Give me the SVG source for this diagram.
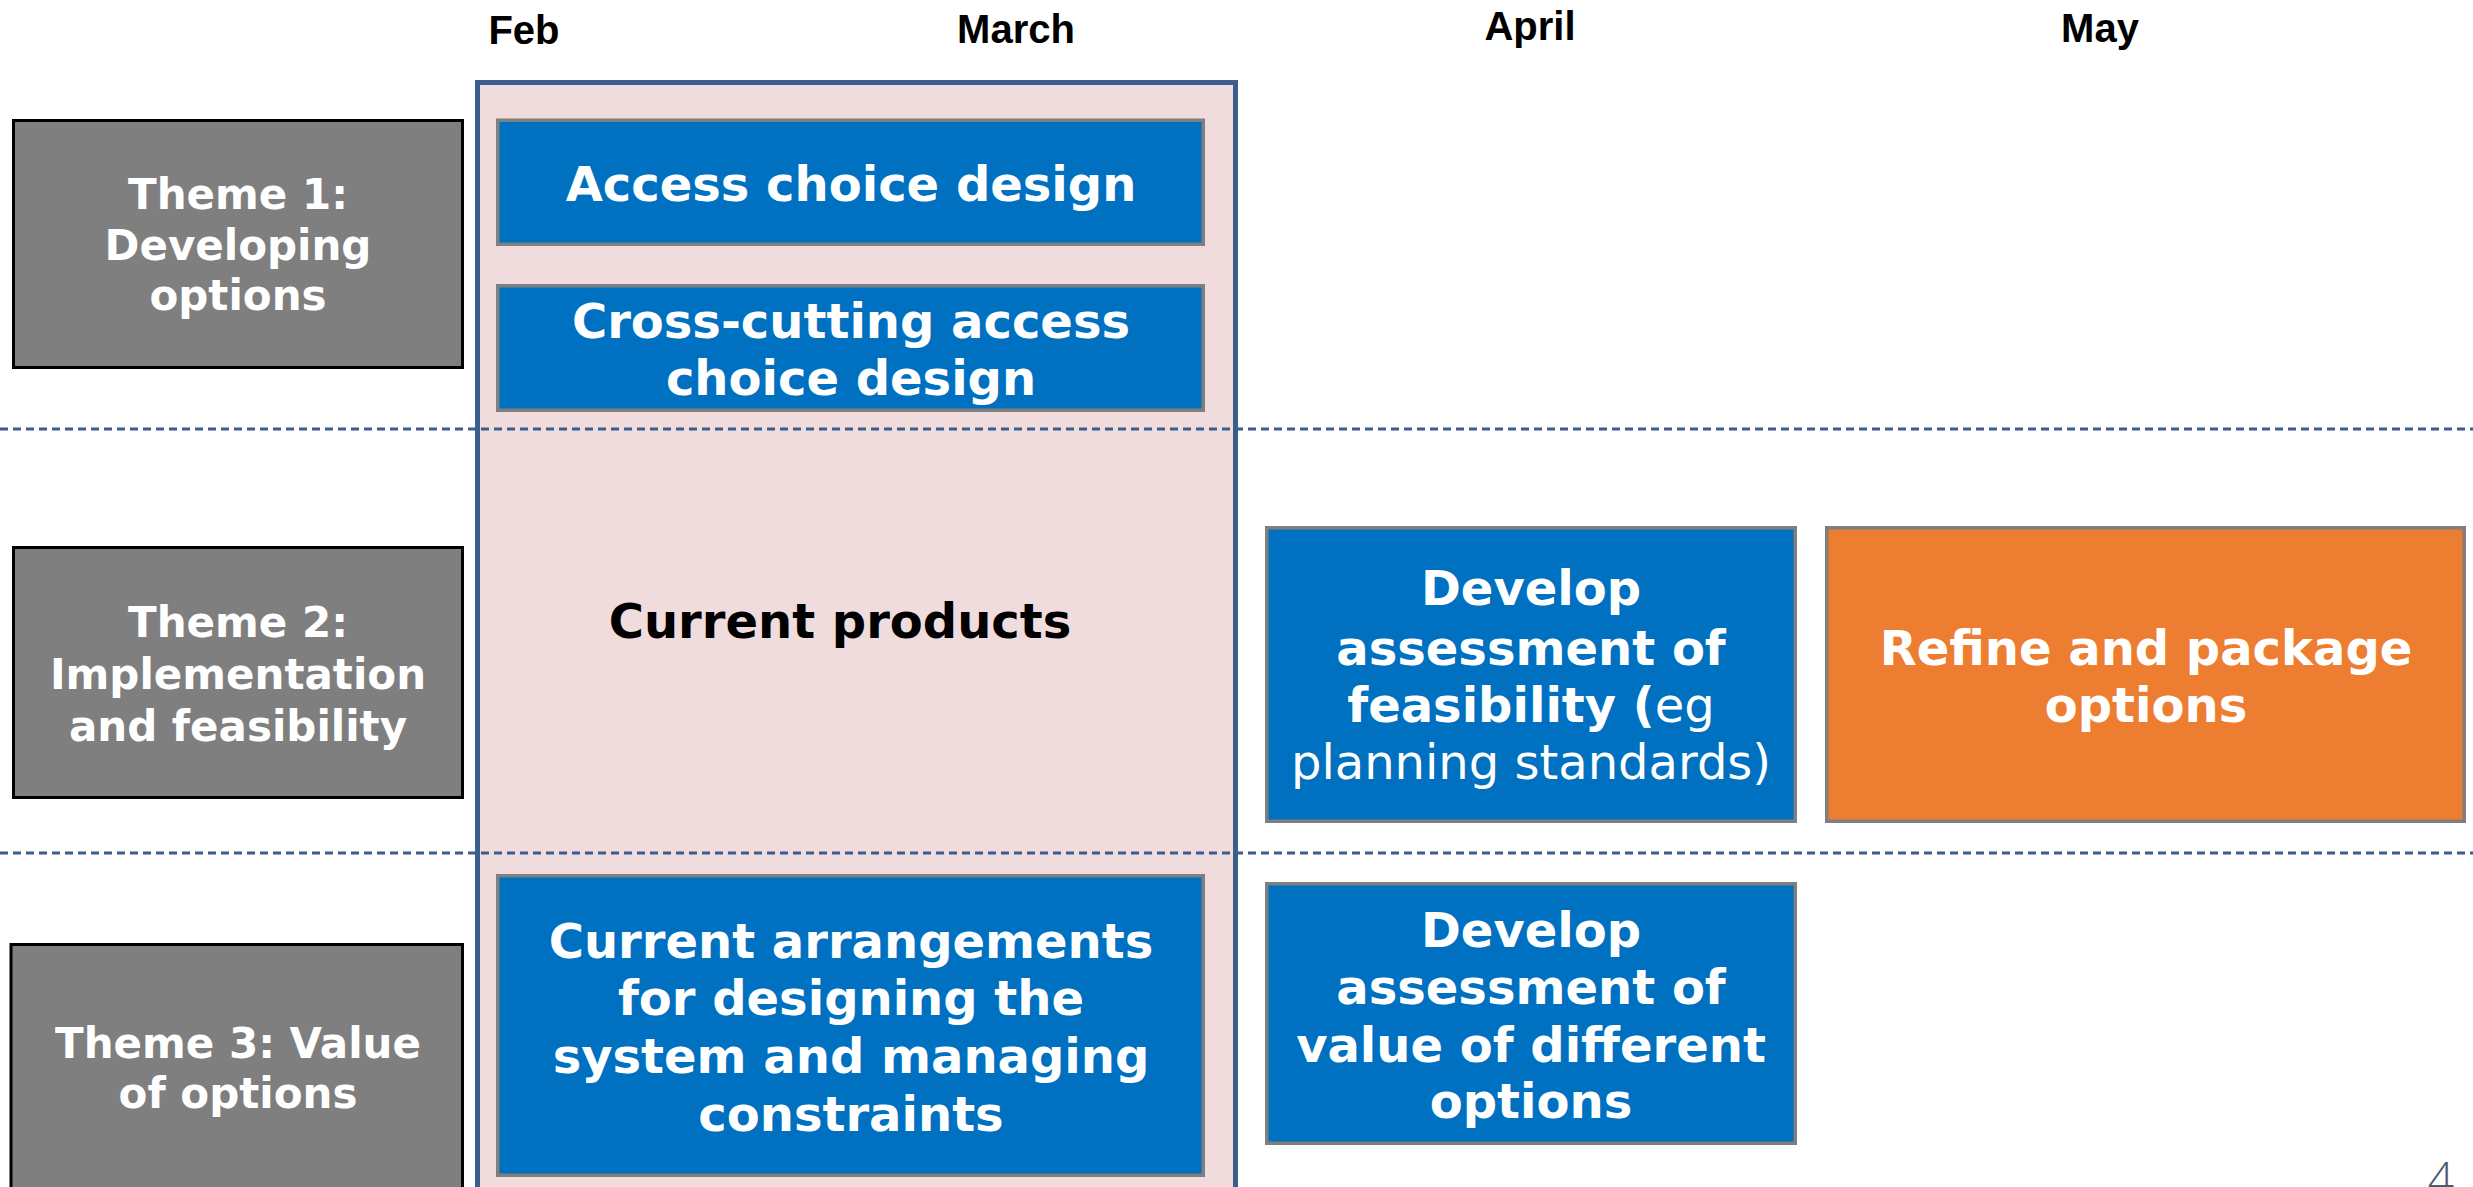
<svg xmlns="http://www.w3.org/2000/svg" width="2473" height="1187" viewBox="0 0 2473 1187">
  <style>
    .month { font-family: "Liberation Sans", Arial, sans-serif; font-weight: bold; font-size: 40px; fill: #000; text-anchor: middle; }
    .theme { fill: #7F7F7F; stroke: #000; stroke-width: 3; }
    .task { fill: #0070C0; stroke: #7F7F7F; stroke-width: 3.5; }
    .final { fill: #ED7D31; stroke: #7F7F7F; stroke-width: 3.5; }
    .lbl { font-family: "DejaVu Sans", Verdana, sans-serif; font-weight: bold; font-size: 42px; fill: #fff; text-anchor: middle; }
    .big { font-family: "DejaVu Sans", Verdana, sans-serif; font-weight: bold; font-size: 48px; fill: #fff; text-anchor: middle; }
    .reg { font-weight: normal; }
    .divider { stroke: #3A5D8E; stroke-width: 3; stroke-dasharray: 8 5; fill: none; }
  </style>

  <rect width="2473" height="1187" fill="#fff"/>

  <!-- month headings -->
  <g id="months">
    <text class="month" x="524" y="44">Feb</text>
    <text class="month" x="1016" y="43">March</text>
    <text class="month" x="1530" y="40">April</text>
    <text class="month" x="2100" y="42">May</text>
  </g>

  <!-- current-state column background -->
  <rect id="current-column-fill" x="477.5" y="82.5" width="758" height="1120" fill="#F0DCDC"/>

  <!-- row dividers -->
  <g id="connectors">
    <line class="divider" x1="0" y1="429" x2="2473" y2="429"/>
    <line class="divider" x1="0" y1="853" x2="2473" y2="853"/>
  </g>

  <g id="current-column">
    <rect x="477.5" y="82.5" width="758" height="1120" fill="none" stroke="#3B5E8C" stroke-width="5"/>
    <text x="840" y="638" font-family="DejaVu Sans, Verdana, sans-serif" font-weight="bold" font-size="48" fill="#000" text-anchor="middle">Current products</text>
  </g>

  <!-- theme labels -->
  <g id="theme1">
    <rect class="theme" x="13.5" y="120.5" width="449" height="247"/>
    <text class="lbl" x="238" y="209">Theme 1:</text>
    <text class="lbl" x="238" y="260">Developing</text>
    <text class="lbl" x="238" y="310">options</text>
  </g>
  <g id="theme2">
    <rect class="theme" x="13.5" y="547.5" width="449" height="250"/>
    <text class="lbl" x="238" y="637">Theme 2:</text>
    <text class="lbl" x="238" y="689">Implementation</text>
    <text class="lbl" x="238" y="741">and feasibility</text>
  </g>
  <g id="theme3">
    <rect class="theme" x="11" y="944.5" width="451.5" height="260"/>
    <text class="lbl" x="238" y="1058">Theme 3: Value</text>
    <text class="lbl" x="238" y="1108">of options</text>
  </g>

  <!-- work items -->
  <g id="access-choice">
    <rect class="task" x="497.75" y="120.25" width="705.5" height="124"/>
    <text class="big" x="851" y="201">Access choice design</text>
  </g>
  <g id="cross-cutting">
    <rect class="task" x="497.75" y="285.75" width="705.5" height="124.5"/>
    <text class="big" x="851" y="338">Cross-cutting access</text>
    <text class="big" x="851" y="395">choice design</text>
  </g>
  <g id="current-arrangements">
    <rect class="task" x="497.75" y="875.75" width="705.5" height="299.5"/>
    <text class="big" x="851" y="958">Current arrangements</text>
    <text class="big" x="851" y="1015">for designing the</text>
    <text class="big" x="851" y="1073">system and managing</text>
    <text class="big" x="851" y="1131">constraints</text>
  </g>
  <g id="feasibility">
    <rect class="task" x="1266.75" y="527.75" width="528.5" height="293.5"/>
    <text class="big" x="1531" y="605">Develop</text>
    <text class="big" x="1531" y="665">assessment of</text>
    <text class="big" x="1531" y="722">feasibility (<tspan class="reg">eg</tspan></text>
    <text class="big reg" x="1531" y="779">planning standards)</text>
  </g>
  <g id="refine">
    <rect class="final" x="1826.75" y="527.75" width="637.5" height="293.5"/>
    <text class="big" x="2146" y="665">Refine and package</text>
    <text class="big" x="2146" y="722">options</text>
  </g>
  <g id="value">
    <rect class="task" x="1266.75" y="883.75" width="528.5" height="259.5"/>
    <text class="big" x="1531" y="947">Develop</text>
    <text class="big" x="1531" y="1004">assessment of</text>
    <text class="big" x="1531" y="1062">value of different</text>
    <text class="big" x="1531" y="1118">options</text>
  </g>

  <!-- page number, running off the lower edge -->
  <text x="2441" y="1195" font-family="Open Sans, Liberation Sans, sans-serif" font-weight="300" font-size="46" fill="#4C5B6B" text-anchor="middle">4</text>
</svg>
